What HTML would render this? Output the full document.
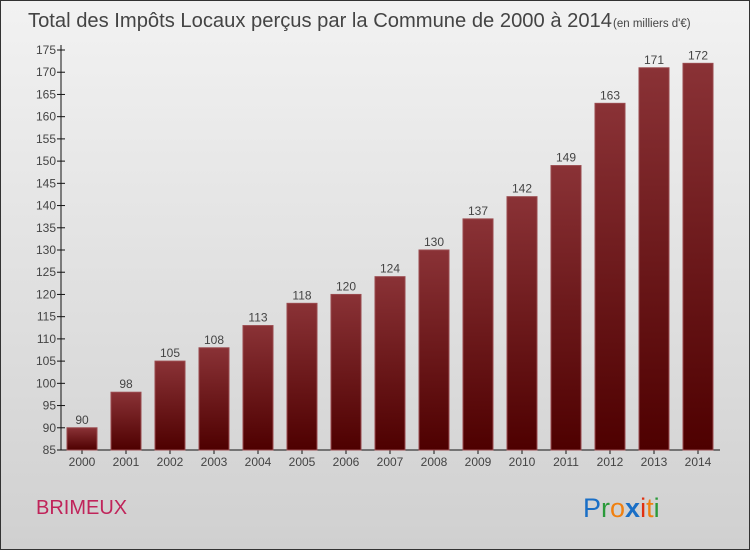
<!DOCTYPE html>
<html><head><meta charset="utf-8"><style>
body{margin:0;width:750px;height:550px;overflow:hidden;font-family:"Liberation Sans",sans-serif}
#wrap{position:absolute;left:0;top:0;width:748px;height:548px;border:1px solid #333;background:linear-gradient(#f2f2f2,#d0d0d0)}
</style></head><body>
<div id="wrap">
<svg width="750" height="550" style="position:absolute;left:-1px;top:-1px">
<defs><linearGradient id="bg" x1="0" y1="0" x2="0" y2="1"><stop offset="0" stop-color="#8a3236"/><stop offset="1" stop-color="#4e0000"/></linearGradient></defs>
<text x="28" y="27" font-size="20" fill="#444" textLength="584" lengthAdjust="spacingAndGlyphs">Total des Impôts Locaux perçus par la Commune de 2000 à 2014</text>
<text x="613" y="27" font-size="11.5" fill="#444">(en milliers d'€)</text>
<g id="axes"></g><g id="bars"></g>
<text x="36" y="514" font-size="20" fill="#c0245a">BRIMEUX</text>
<text x="583" y="517" font-size="27"><tspan fill="#1a6fc6">P</tspan><tspan fill="#2a9a3a">r</tspan><tspan fill="#f08010">o</tspan><tspan fill="#1a6fc6" font-weight="bold">x</tspan><tspan fill="#e03010">i</tspan><tspan fill="#f08010">t</tspan><tspan fill="#2a9a3a">i</tspan></text>
</svg></div>
<script>
const years=["2000","2001","2002","2003","2004","2005","2006","2007","2008","2009","2010","2011","2012","2013","2014"];
const values=[90,98,105,108,113,118,120,124,130,137,142,149,163,171,172];
const ticks=[85,90,95,100,105,110,115,120,125,130,135,140,145,150,155,160,165,170,175];
const NS="http://www.w3.org/2000/svg";
const y=v=>450-(v-85)*400/90, x=i=>82+44*i;
const ax=document.getElementById('axes'), bg=document.getElementById('bars');
function mk(t,a,p){const e=document.createElementNS(NS,t);for(const k in a)e.setAttribute(k,a[k]);p.appendChild(e);return e;}
let l=mk('line',{x1:61,y1:45,x2:61,y2:450,stroke:'#111'},ax);


l=mk('line',{x1:61,y1:450,x2:720,y2:450,stroke:'#111'},ax);


ticks.forEach(t=>{mk('line',{x1:57,x2:65,y1:y(t),y2:y(t),stroke:'#111'},ax);
const e=mk('text',{x:56,y:y(t)+4,'text-anchor':'end','font-size':12,fill:'#444'},ax);e.textContent=t;

});
years.forEach((yr,i)=>{mk('line',{x1:x(i),x2:x(i),y1:450,y2:454,stroke:'#111'},ax);
const e=mk('text',{x:x(i),y:466,'text-anchor':'middle','font-size':12,fill:'#444'},ax);e.textContent=yr;


const r=mk('rect',{x:x(i)-15,y:y(values[i]),width:30,height:450-y(values[i]),fill:'url(#bg)',stroke:'#9a4a4e','stroke-width':1},bg);


const v=mk('text',{x:x(i),y:y(values[i])-4,'text-anchor':'middle','font-size':12,fill:'#444'},bg);v.textContent=values[i];

});
</script>
</body></html>
